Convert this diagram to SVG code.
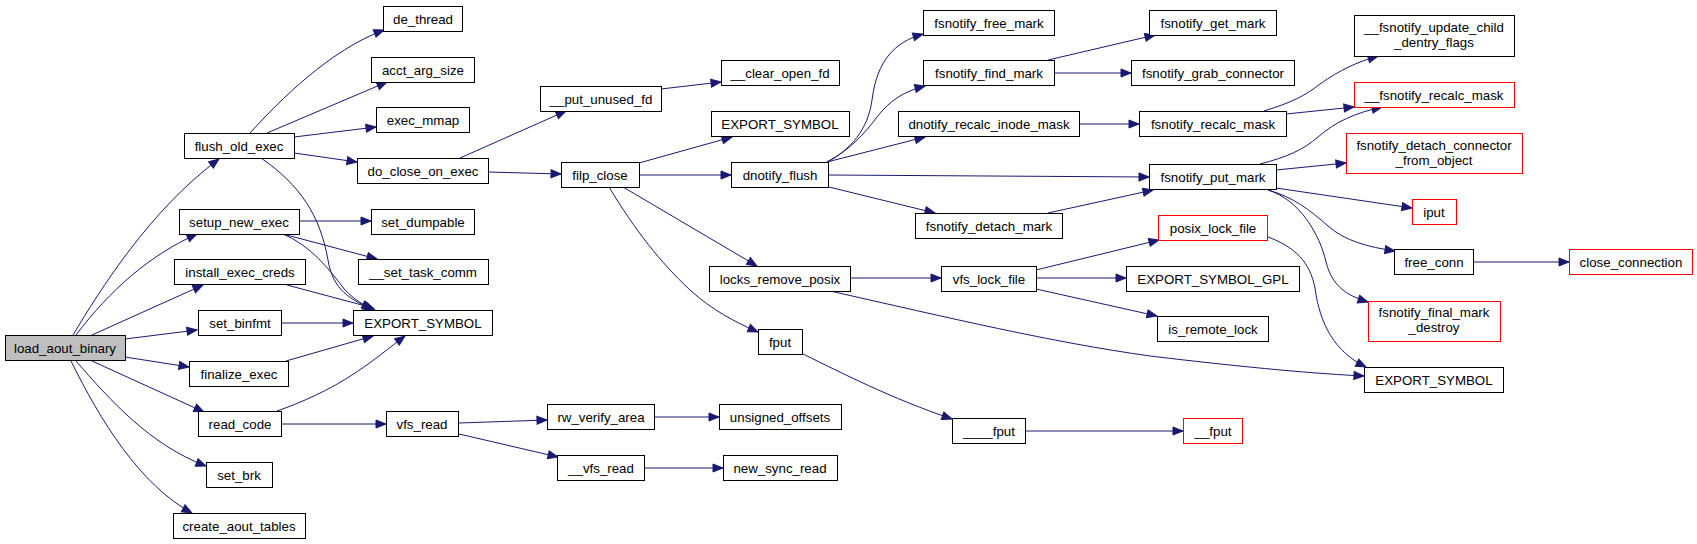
<svg xmlns="http://www.w3.org/2000/svg" width="1697" height="544" viewBox="0 0 1697 544">
<style>
.n rect{fill:#fff;stroke:#000;stroke-width:1}
.n.r rect{stroke:#ff0000}
.n.g rect{fill:#bfbfbf}
text{font-family:"Liberation Sans",Arial,Helvetica,sans-serif;font-size:13.3px;text-anchor:middle;fill:#000}
.e path{fill:none;stroke:#191970;stroke-width:1;marker-end:url(#a)}
</style>
<defs>
<marker id="a" markerUnits="userSpaceOnUse" markerWidth="12" markerHeight="10" refX="10" refY="4" orient="auto" overflow="visible">
<path d="M0,0L10,4L0,8z" fill="#191970" stroke="#191970" stroke-width="1"/>
</marker>
</defs>
<rect width="1697" height="544" fill="#fff"/>
<g id="edges" class="e">
<path d="M73,335 C100,290 150,210 219,159"/>
<path d="M76,335 C110,290 150,255 197,234"/>
<path d="M92,335 L203,285"/>
<path d="M125,339 L197,330"/>
<path d="M125,357 L189,367"/>
<path d="M92,361 L204,412"/>
<path d="M76,361 C110,400 150,445 206,466"/>
<path d="M71,361 C100,420 140,485 192,513"/>
<path d="M250,133 C280,100 330,50 384,30"/>
<path d="M267,133 L387,82"/>
<path d="M294,137 L376,127"/>
<path d="M294,153 L357,162"/>
<path d="M261,158 C300,185 320,215 328,260 C333,290 350,300 375,310"/>
<path d="M299,221 L371,221"/>
<path d="M283,234 L377,259"/>
<path d="M283,234 C310,245 330,270 345,290 C355,300 362,304 372,309"/>
<path d="M287,285 L373,308"/>
<path d="M281,323 L353,323"/>
<path d="M286,361 L373,336"/>
<path d="M277,411 C300,403 330,390 355,373 C375,360 390,347 405,336"/>
<path d="M281,424 L386,424"/>
<path d="M459,423 L547,420"/>
<path d="M459,434 L558,457"/>
<path d="M654,417 L719,417"/>
<path d="M644,468 L723,468"/>
<path d="M460,158 L566,111"/>
<path d="M488,172 L561,174"/>
<path d="M661,89 L721,82"/>
<path d="M639,163 L732,137"/>
<path d="M639,175 L731,175"/>
<path d="M623,187 L757,266"/>
<path d="M609,187 C635,230 660,262 690,290 C712,310 735,322 758,332"/>
<path d="M827,162 C850,150 868,130 872,100 C877,60 895,42 923,34"/>
<path d="M827,162 C850,150 865,133 877,117 C890,100 905,91 925,86"/>
<path d="M827,162 L925,137"/>
<path d="M828,175 L1149,177"/>
<path d="M829,187 L935,213"/>
<path d="M1048,60 L1155,35"/>
<path d="M1053,73 L1131,73"/>
<path d="M1079,124 L1139,124"/>
<path d="M1264,111 C1290,103 1305,96 1320,84 C1340,70 1357,62 1378,56"/>
<path d="M1286,114 L1354,107"/>
<path d="M1048,213 L1153,190"/>
<path d="M1260,164 C1287,157 1303,150 1318,137 C1335,122 1355,113 1382,107"/>
<path d="M1276,170 L1346,163"/>
<path d="M1276,188 L1412,208"/>
<path d="M1268,190 C1293,197 1310,210 1328,226 C1345,241 1368,247 1395,251"/>
<path d="M1268,190 C1300,200 1320,235 1326,262 C1332,285 1345,295 1368,302"/>
<path d="M1473,262 L1569,262"/>
<path d="M1268,237 C1295,247 1310,262 1315,288 C1320,325 1335,352 1366,367"/>
<path d="M850,278 L941,278"/>
<path d="M830,291 C950,318 1050,342 1150,356 C1250,368 1320,374 1364,376"/>
<path d="M1036,270 L1159,240"/>
<path d="M1036,278 L1126,278"/>
<path d="M1036,289 L1157,316"/>
<path d="M803,354 C840,372 890,398 952,419"/>
<path d="M1025,431 L1183,431"/>
</g>
<g id="load_aout_binary" class="n g"><rect x="5.5" y="335.5" width="120" height="25"/><text x="65" y="352.5">load_aout_binary</text></g>
<g id="flush_old_exec" class="n"><rect x="184.5" y="133.5" width="110" height="25"/><text x="239" y="150.5">flush_old_exec</text></g>
<g id="de_thread" class="n"><rect x="383.5" y="6.5" width="79" height="25"/><text x="423" y="23.5">de_thread</text></g>
<g id="acct_arg_size" class="n"><rect x="371.5" y="57.5" width="103" height="25"/><text x="423" y="74.5">acct_arg_size</text></g>
<g id="exec_mmap" class="n"><rect x="376.5" y="107.5" width="93" height="25"/><text x="423" y="124.5">exec_mmap</text></g>
<g id="do_close_on_exec" class="n"><rect x="357.5" y="158.5" width="131" height="25"/><text x="423" y="175.5">do_close_on_exec</text></g>
<g id="setup_new_exec" class="n"><rect x="179.5" y="209.5" width="120" height="25"/><text x="239" y="226.5">setup_new_exec</text></g>
<g id="set_dumpable" class="n"><rect x="371.5" y="209.5" width="103" height="25"/><text x="423" y="226.5">set_dumpable</text></g>
<g id="__set_task_comm" class="n"><rect x="358.5" y="259.5" width="130" height="25"/><text x="423" y="276.5">__set_task_comm</text></g>
<g id="install_exec_creds" class="n"><rect x="174.5" y="259.5" width="131" height="25"/><text x="240" y="276.5">install_exec_creds</text></g>
<g id="EXPORT_SYMBOL_a" class="n"><rect x="353.5" y="310.5" width="139" height="25"/><text x="423" y="327.5">EXPORT_SYMBOL</text></g>
<g id="set_binfmt" class="n"><rect x="198.5" y="310.5" width="83" height="25"/><text x="240" y="327.5">set_binfmt</text></g>
<g id="finalize_exec" class="n"><rect x="189.5" y="361.5" width="99" height="25"/><text x="239" y="378.5">finalize_exec</text></g>
<g id="read_code" class="n"><rect x="198.5" y="411.5" width="83" height="25"/><text x="240" y="428.5">read_code</text></g>
<g id="vfs_read" class="n"><rect x="386.5" y="411.5" width="72" height="25"/><text x="422" y="428.5">vfs_read</text></g>
<g id="set_brk" class="n"><rect x="206.5" y="462.5" width="66" height="25"/><text x="239" y="479.5">set_brk</text></g>
<g id="create_aout_tables" class="n"><rect x="173.5" y="513.5" width="132" height="25"/><text x="239" y="530.5">create_aout_tables</text></g>
<g id="__put_unused_fd" class="n"><rect x="540.5" y="86.5" width="121" height="25"/><text x="601" y="103.5">__put_unused_fd</text></g>
<g id="filp_close" class="n"><rect x="561.5" y="162.5" width="78" height="25"/><text x="600" y="179.5">filp_close</text></g>
<g id="rw_verify_area" class="n"><rect x="547.5" y="404.5" width="107" height="25"/><text x="601" y="421.5">rw_verify_area</text></g>
<g id="__vfs_read" class="n"><rect x="557.5" y="455.5" width="87" height="25"/><text x="601" y="472.5">__vfs_read</text></g>
<g id="__clear_open_fd" class="n"><rect x="721.5" y="60.5" width="118" height="25"/><text x="780" y="77.5">__clear_open_fd</text></g>
<g id="EXPORT_SYMBOL_b" class="n"><rect x="711.5" y="111.5" width="138" height="25"/><text x="780" y="128.5">EXPORT_SYMBOL</text></g>
<g id="dnotify_flush" class="n"><rect x="731.5" y="162.5" width="97" height="25"/><text x="780" y="179.5">dnotify_flush</text></g>
<g id="locks_remove_posix" class="n"><rect x="709.5" y="266.5" width="141" height="25"/><text x="780" y="283.5">locks_remove_posix</text></g>
<g id="fput" class="n"><rect x="758.5" y="329.5" width="44" height="25"/><text x="780" y="346.5">fput</text></g>
<g id="unsigned_offsets" class="n"><rect x="719.5" y="404.5" width="122" height="25"/><text x="780" y="421.5">unsigned_offsets</text></g>
<g id="new_sync_read" class="n"><rect x="723.5" y="455.5" width="114" height="25"/><text x="780" y="472.5">new_sync_read</text></g>
<g id="fsnotify_free_mark" class="n"><rect x="923.5" y="10.5" width="131" height="25"/><text x="989" y="27.5">fsnotify_free_mark</text></g>
<g id="fsnotify_find_mark" class="n"><rect x="923.5" y="60.5" width="131" height="25"/><text x="989" y="77.5">fsnotify_find_mark</text></g>
<g id="dnotify_recalc_inode_mask" class="n"><rect x="898.5" y="111.5" width="181" height="25"/><text x="989" y="128.5">dnotify_recalc_inode_mask</text></g>
<g id="fsnotify_detach_mark" class="n"><rect x="915.5" y="213.5" width="147" height="25"/><text x="989" y="230.5">fsnotify_detach_mark</text></g>
<g id="vfs_lock_file" class="n"><rect x="941.5" y="266.5" width="95" height="25"/><text x="989" y="283.5">vfs_lock_file</text></g>
<g id="____fput" class="n"><rect x="952.5" y="418.5" width="73" height="25"/><text x="989" y="435.5">____fput</text></g>
<g id="fsnotify_get_mark" class="n"><rect x="1149.5" y="10.5" width="127" height="25"/><text x="1213" y="27.5">fsnotify_get_mark</text></g>
<g id="fsnotify_grab_connector" class="n"><rect x="1131.5" y="60.5" width="163" height="25"/><text x="1213" y="77.5">fsnotify_grab_connector</text></g>
<g id="fsnotify_recalc_mask" class="n"><rect x="1139.5" y="111.5" width="147" height="25"/><text x="1213" y="128.5">fsnotify_recalc_mask</text></g>
<g id="fsnotify_put_mark" class="n"><rect x="1149.5" y="164.5" width="127" height="25"/><text x="1213" y="181.5">fsnotify_put_mark</text></g>
<g id="posix_lock_file" class="n r"><rect x="1158.5" y="215.5" width="109" height="25"/><text x="1213" y="232.5">posix_lock_file</text></g>
<g id="EXPORT_SYMBOL_GPL" class="n"><rect x="1126.5" y="266.5" width="173" height="25"/><text x="1213" y="283.5">EXPORT_SYMBOL_GPL</text></g>
<g id="is_remote_lock" class="n"><rect x="1157.5" y="316.5" width="111" height="25"/><text x="1213" y="333.5">is_remote_lock</text></g>
<g id="__fput" class="n r"><rect x="1183.5" y="418.5" width="59" height="25"/><text x="1213" y="435.5">__fput</text></g>
<g id="__fsnotify_update_child_dentry_flags" class="n"><rect x="1354.5" y="15.5" width="160" height="41"/><text x="1434" y="32">__fsnotify_update_child</text><text x="1434" y="47">_dentry_flags</text></g>
<g id="__fsnotify_recalc_mask" class="n r"><rect x="1354.5" y="82.5" width="160" height="25"/><text x="1434" y="99.5">__fsnotify_recalc_mask</text></g>
<g id="fsnotify_detach_connector_from_object" class="n r"><rect x="1346.5" y="133.5" width="176" height="40"/><text x="1434" y="149.5">fsnotify_detach_connector</text><text x="1434" y="164.5">_from_object</text></g>
<g id="iput" class="n r"><rect x="1412.5" y="199.5" width="44" height="25"/><text x="1434" y="216.5">iput</text></g>
<g id="free_conn" class="n"><rect x="1394.5" y="249.5" width="79" height="25"/><text x="1434" y="266.5">free_conn</text></g>
<g id="fsnotify_final_mark_destroy" class="n r"><rect x="1368.5" y="301.5" width="132" height="40"/><text x="1434" y="317">fsnotify_final_mark</text><text x="1434" y="332">_destroy</text></g>
<g id="EXPORT_SYMBOL_c" class="n"><rect x="1364.5" y="367.5" width="139" height="25"/><text x="1434" y="384.5">EXPORT_SYMBOL</text></g>
<g id="close_connection" class="n r"><rect x="1569.5" y="249.5" width="123" height="25"/><text x="1631" y="266.5">close_connection</text></g>
</svg>
